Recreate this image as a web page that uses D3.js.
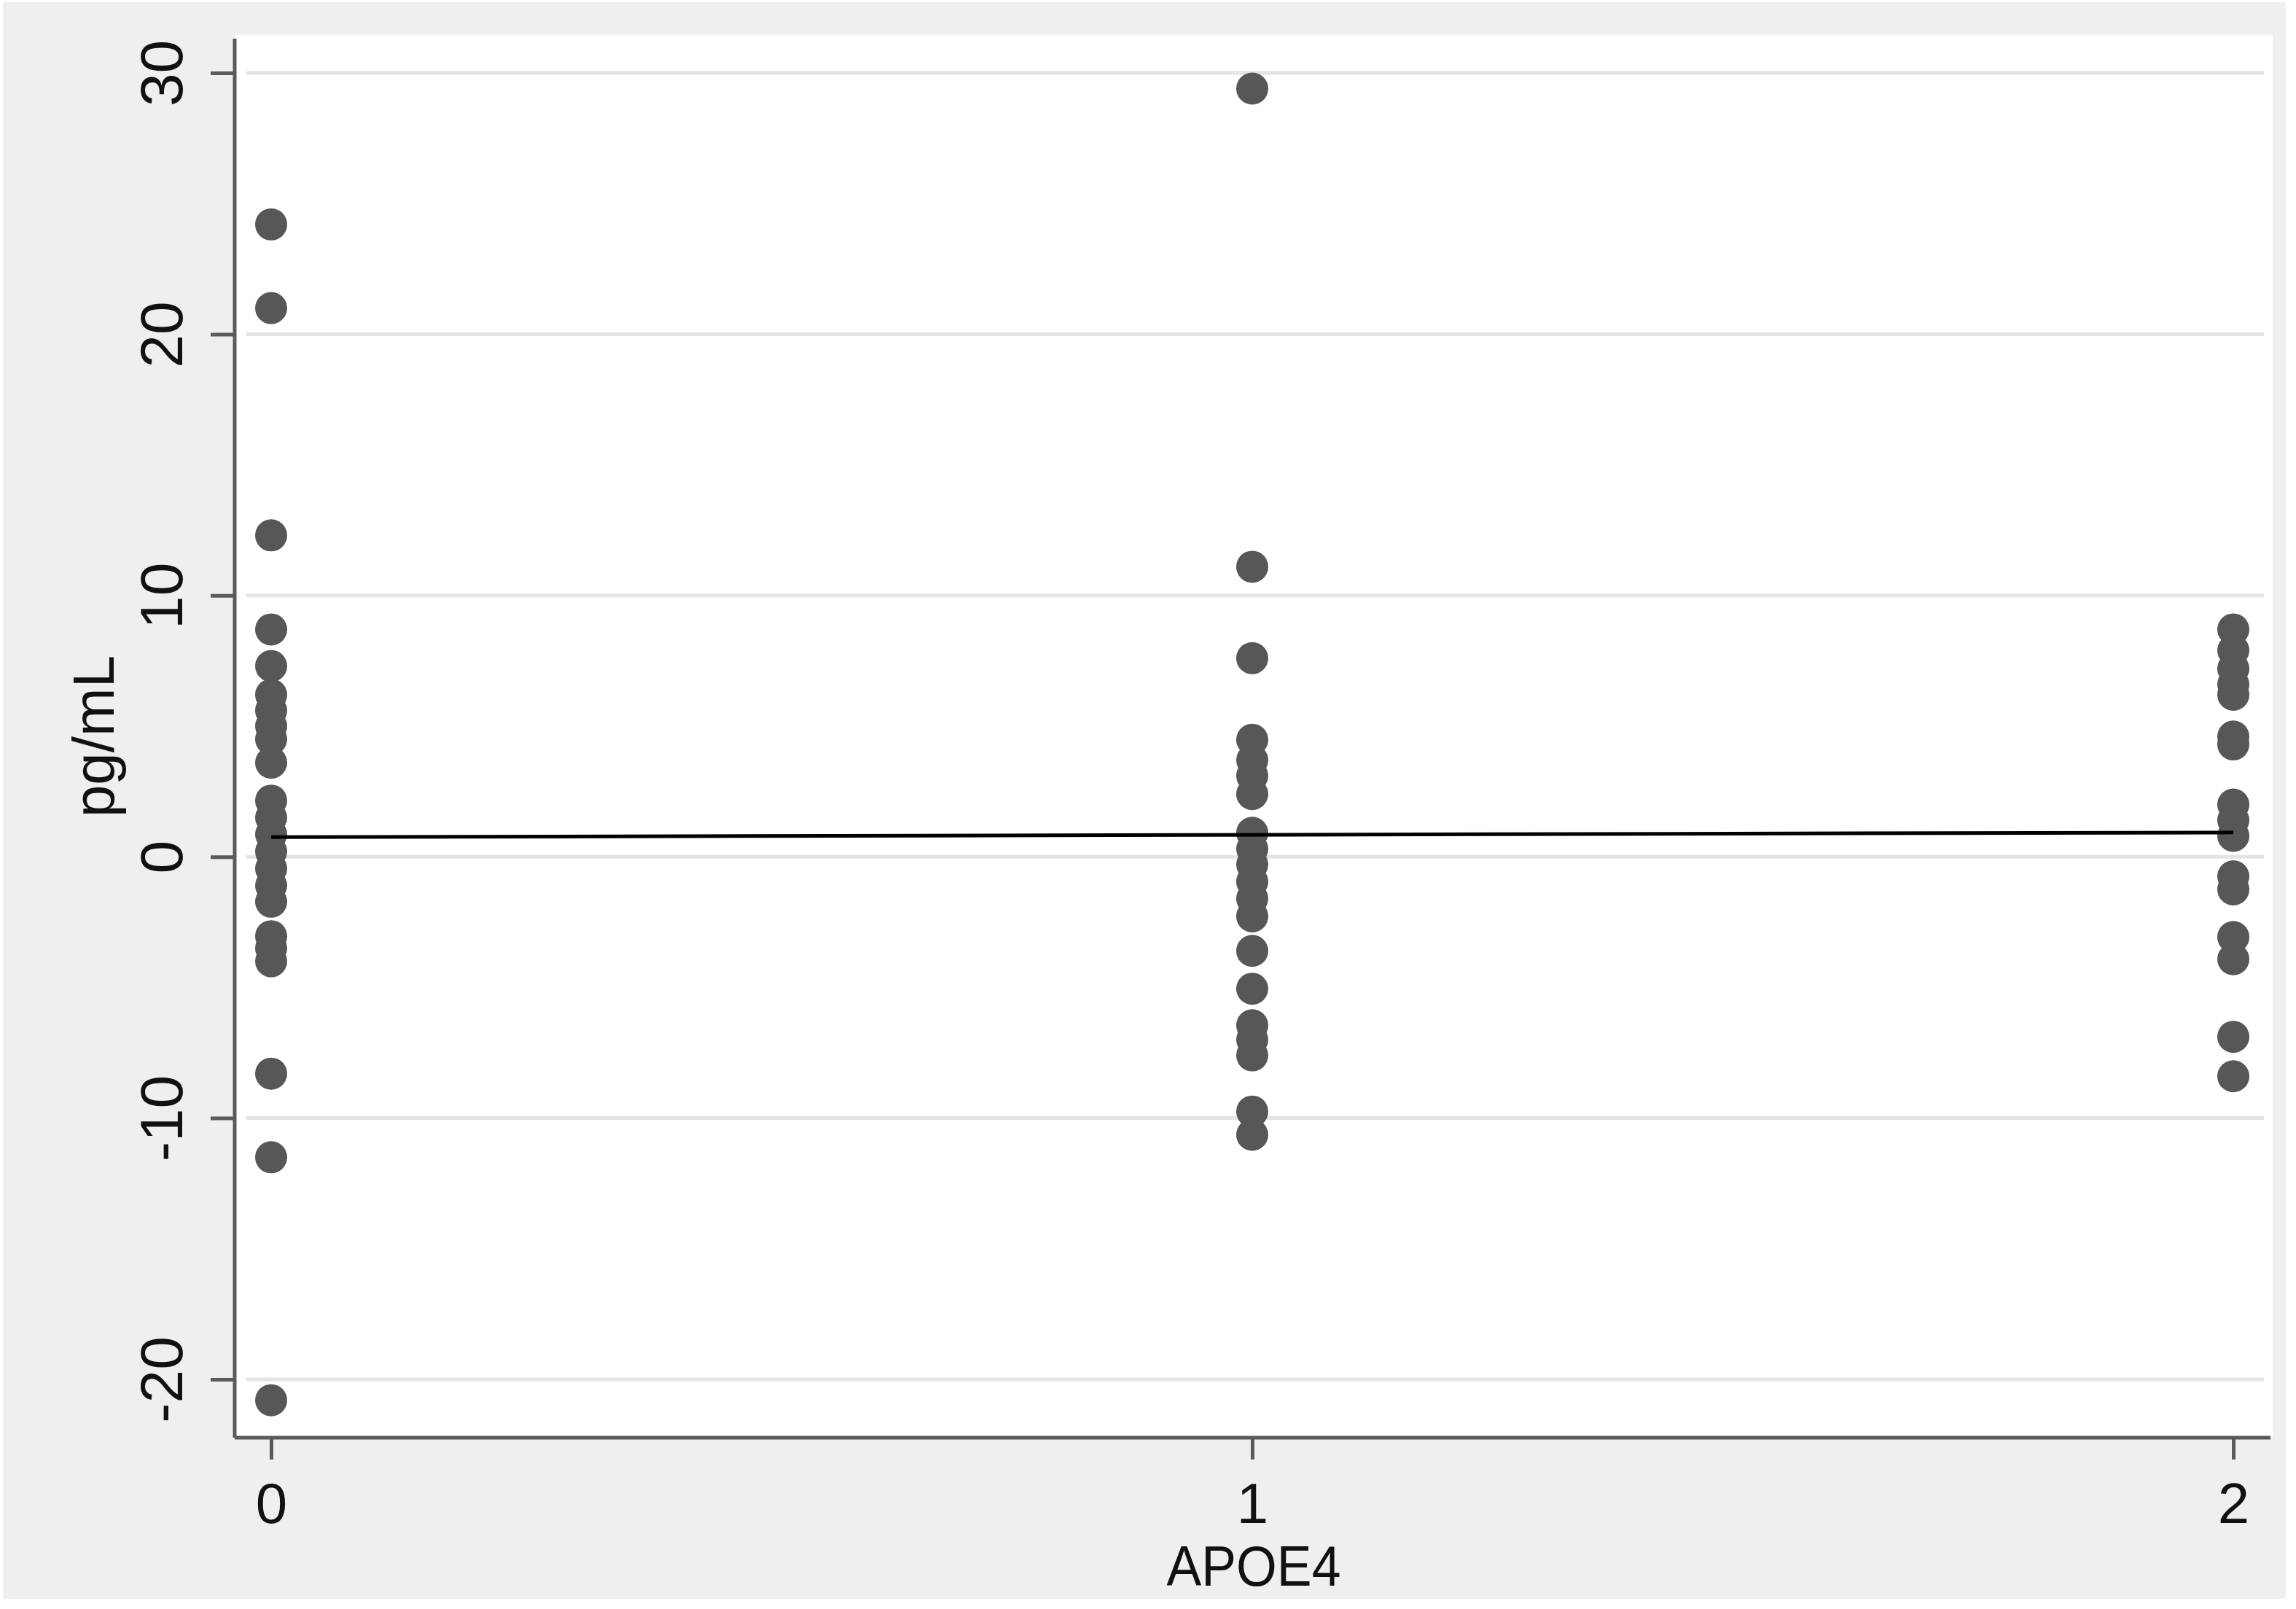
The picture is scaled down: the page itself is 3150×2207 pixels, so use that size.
<!DOCTYPE html>
<html>
<head>
<meta charset="utf-8">
<script src="https://cdn.jsdelivr.net/npm/d3@7"></script>
<style>
  html, body { margin: 0; padding: 0; background: #ffffff; }
  svg { display: block; }
</style>
</head>
<body>
<script>
// ---- data ----
const categories = [0, 1, 2];
const apoe0 = [24.2, 21.0, 12.3, 8.7, 7.3, 6.2, 5.6, 5.0, 4.5, 3.6, 2.15, 1.5, 0.86, 0.2, -0.45, -1.1, -1.72, -3.04, -3.5, -4.0, -8.3, -11.5, -20.8];
const apoe1 = [29.4, 11.1, 7.6, 4.48, 3.7, 3.1, 2.4, 0.92, 0.3, -0.3, -0.95, -1.6, -2.28, -3.6, -5.05, -6.45, -7.0, -7.6, -9.75, -10.64];
const apoe2 = [8.7, 7.9, 7.2, 6.6, 6.2, 4.6, 4.3, 2.0, 1.4, 0.8, -0.75, -1.25, -3.07, -3.92, -6.89, -8.4];
const yTicks = [-20, -10, 0, 10, 20, 30];
const fitX = [0, 2];
const fitY = [0.75, 0.93];
const xTitle = "APOE4";
const yTitle = "pg/mL";

// ---- layout ----
const W = 3150, H = 2207;
const plotLeft = 322, plotRight = 3118, plotTop = 48, plotBottom = 1972;
const font = "'Liberation Sans', Arial, Helvetica, sans-serif";

const svg = d3.select("body").append("svg").attr("width", W).attr("height", H);

svg.append("rect").attr("x", 0).attr("y", 0).attr("width", W).attr("height", H).attr("fill", "#ffffff");
svg.append("rect").attr("x", 4).attr("y", 3).attr("width", 3132).attr("height", 2190).attr("fill", "#efefef");
svg.append("rect").attr("x", plotLeft).attr("y", plotTop).attr("width", plotRight - plotLeft).attr("height", plotBottom - plotTop).attr("fill", "#ffffff");

const x = d3.scaleLinear().domain([0, 2]).range([372, 3064]);
const y = d3.scaleLinear().domain([-20, 30]).range([1892, 100]);
const fmt = d => String(d);

// gridlines
svg.append("g").selectAll("line").data(yTicks).join("line")
  .attr("x1", plotLeft + 16).attr("x2", plotRight - 12)
  .attr("y1", d => y(d)).attr("y2", d => y(d))
  .attr("stroke", "#e4e4e4").attr("stroke-width", 5);

// points
const points = [];
[apoe0, apoe1, apoe2].forEach((arr, i) => arr.forEach(v => points.push({c: categories[i], v})));
svg.append("g").selectAll("circle").data(points).join("circle")
  .attr("cx", d => x(d.c)).attr("cy", d => y(d.v)).attr("r", 22)
  .attr("fill", "#575757");

// fit line
svg.append("path")
  .datum(fitX.map((d, i) => [d, fitY[i]]))
  .attr("d", d3.line().x(d => x(d[0])).y(d => y(d[1])))
  .attr("fill", "none").attr("stroke", "#000000").attr("stroke-width", 5);

// y axis
const yAxis = svg.append("g").attr("transform", `translate(${plotLeft},0)`)
  .call(d3.axisLeft(y).tickValues(yTicks).tickSize(33).tickSizeOuter(0).tickFormat(fmt));
yAxis.select(".domain").attr("d", `M0,${plotTop + 5}V${plotBottom}`).attr("stroke", "#5a5a5a").attr("stroke-width", 5);
yAxis.selectAll(".tick line").attr("stroke", "#5a5a5a").attr("stroke-width", 5);
yAxis.selectAll(".tick text")
  .attr("x", null).attr("dy", null)
  .attr("transform", "translate(-72,0) rotate(-90)")
  .attr("text-anchor", "middle")
  .attr("font-family", font).attr("font-size", 82).attr("fill", "#111");

// x axis
const xAxis = svg.append("g").attr("transform", `translate(0,${plotBottom})`)
  .call(d3.axisBottom(x).tickValues(categories).tickSize(30).tickSizeOuter(0).tickFormat(fmt));
xAxis.select(".domain").attr("d", `M${plotLeft},0H${plotRight - 3}`).attr("stroke", "#5a5a5a").attr("stroke-width", 5);
xAxis.selectAll(".tick line").attr("stroke", "#5a5a5a").attr("stroke-width", 5);
xAxis.selectAll(".tick text")
  .attr("y", 117).attr("dy", null)
  .attr("font-family", font).attr("font-size", 78).attr("fill", "#111");

// titles
svg.append("text")
  .attr("x", (plotLeft + plotRight) / 2).attr("y", 2175)
  .attr("text-anchor", "middle")
  .attr("font-family", font).attr("font-size", 78).attr("fill", "#111")
  .attr("textLength", 239).attr("lengthAdjust", "spacingAndGlyphs")
  .text(xTitle);

svg.append("text")
  .attr("transform", `translate(156,${(plotTop + plotBottom) / 2}) rotate(-90)`)
  .attr("text-anchor", "middle")
  .attr("font-family", font).attr("font-size", 80).attr("fill", "#111")
  .text(yTitle);
</script>
</body>
</html>
